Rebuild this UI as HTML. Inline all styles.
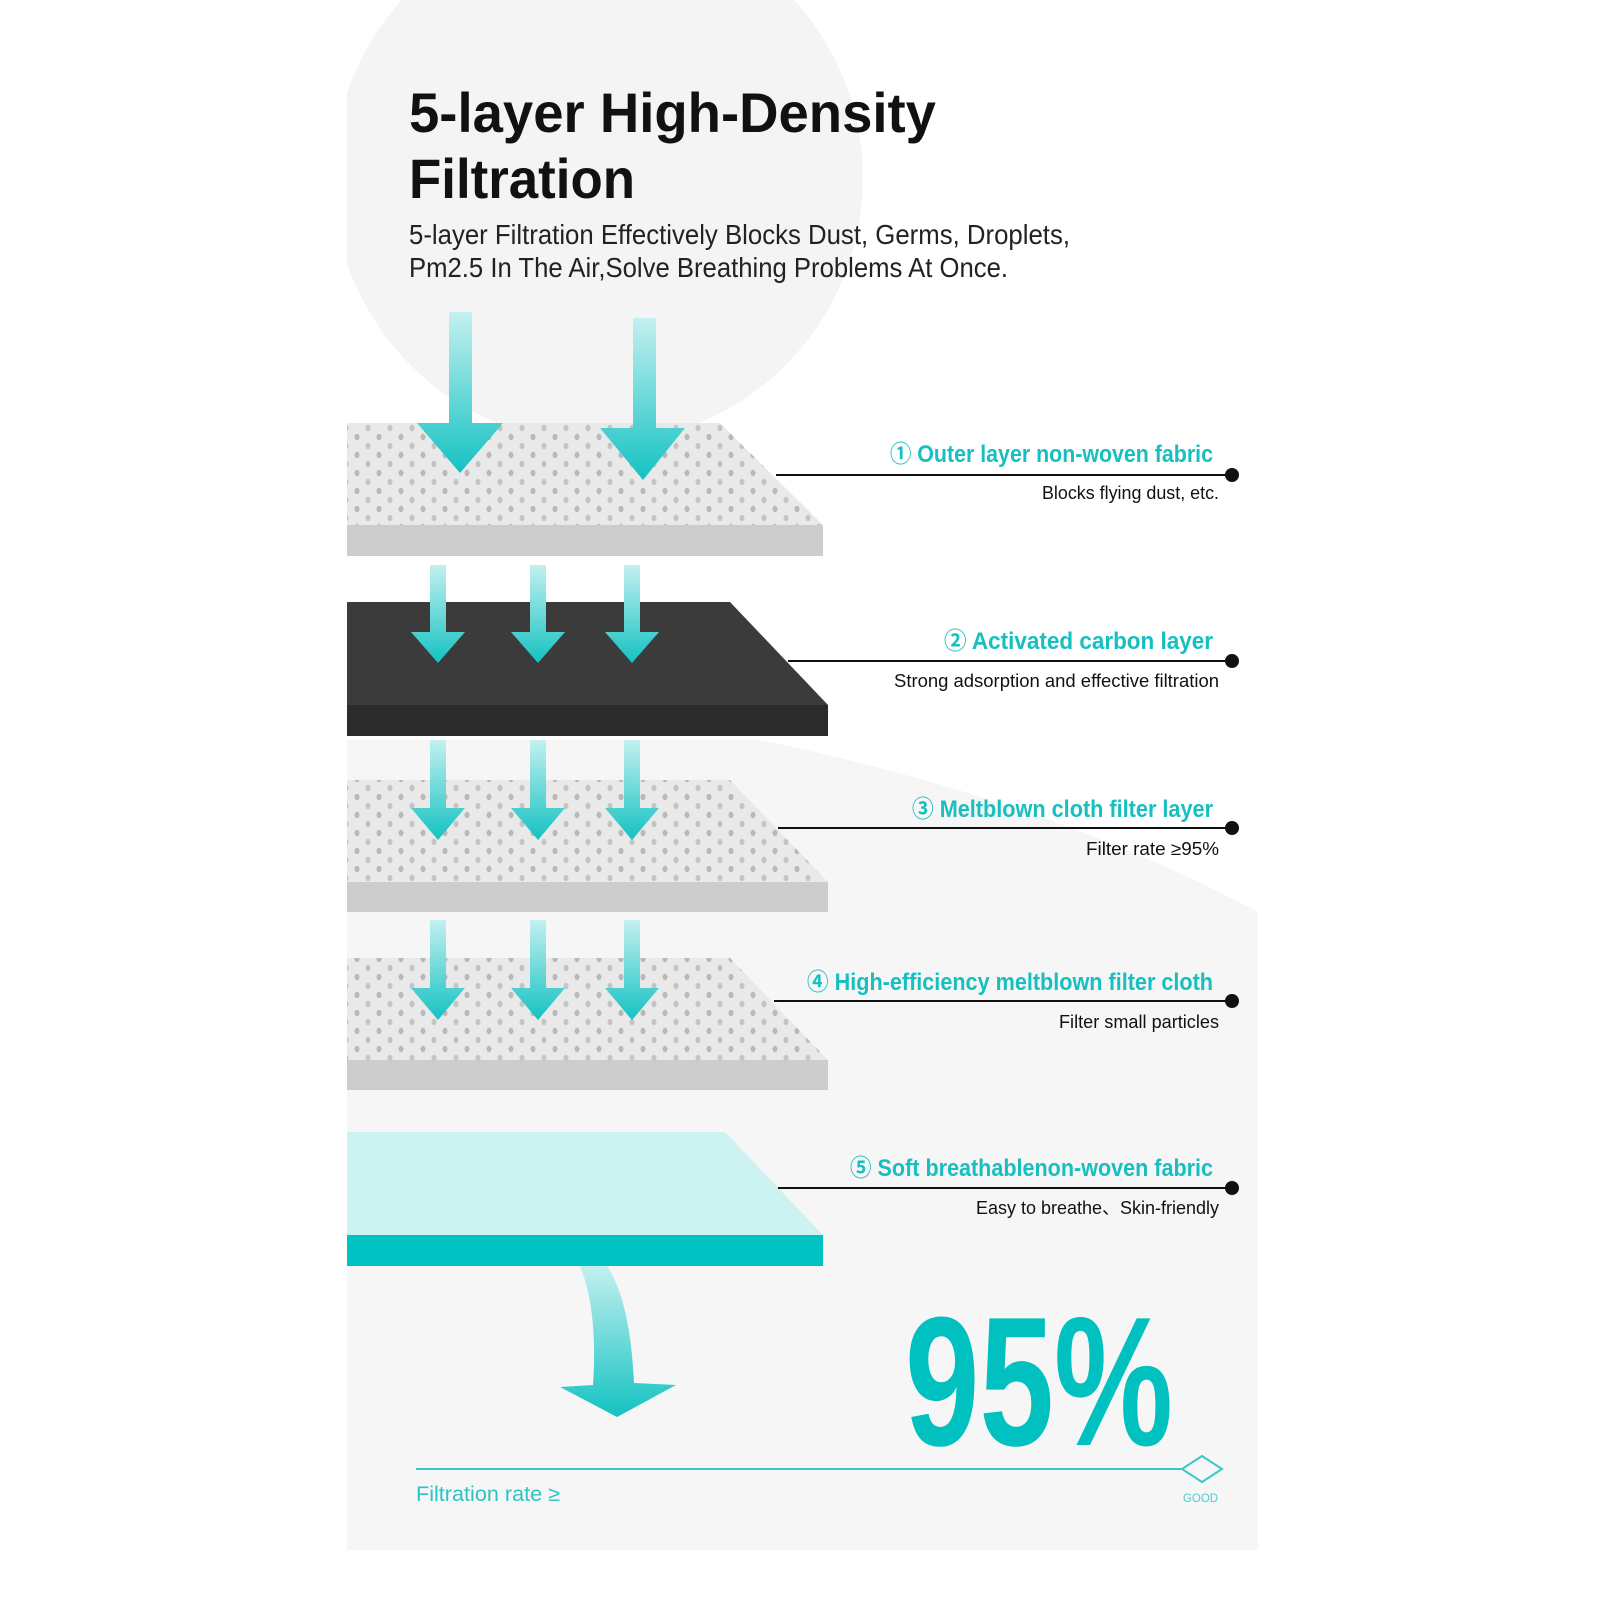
<!DOCTYPE html>
<html><head><meta charset="utf-8"><style>html,body{margin:0;padding:0;background:#fff;width:1600px;height:1600px;overflow:hidden}svg{display:block;position:absolute;left:0;top:0}</style></head>
<body>
<svg width="1600" height="1600" viewBox="0 0 1600 1600" xmlns="http://www.w3.org/2000/svg" font-family="Liberation Sans, sans-serif">
<defs>
<clipPath id="pc"><rect x="347" y="0" width="911" height="1550"/></clipPath>
<linearGradient id="ag" x1="0" y1="0" x2="0" y2="1"><stop offset="0" stop-color="#c4f0f0"/><stop offset="1" stop-color="#14c2c2"/></linearGradient>
<pattern id="dots" width="22" height="18" patternUnits="userSpaceOnUse">
<rect width="22" height="18" fill="#e9e9e9"/>
<ellipse cx="5" cy="5" rx="2.5" ry="3.2" fill="#b9b9b9"/>
<ellipse cx="16" cy="14" rx="2.5" ry="3.2" fill="#c4c4c4"/>
</pattern>
</defs>
<g clip-path="url(#pc)">
<circle cx="598" cy="178" r="265" fill="#f4f4f4"/>
<path d="M347,740 L760,740 Q1050,800 1258,912 L1258,1550 L347,1550 Z" fill="#f6f6f6"/>
</g>
<text x="409" y="132" font-size="56" font-weight="bold" fill="#111" textLength="527" lengthAdjust="spacingAndGlyphs">5-layer High-Density</text>
<text x="409" y="198" font-size="56" font-weight="bold" fill="#111" textLength="226" lengthAdjust="spacingAndGlyphs">Filtration</text>
<text x="409" y="244" font-size="28" fill="#222" textLength="661" lengthAdjust="spacingAndGlyphs">5-layer Filtration Effectively Blocks Dust, Germs, Droplets,</text>
<text x="409" y="277" font-size="28" fill="#222" textLength="599" lengthAdjust="spacingAndGlyphs">Pm2.5 In The Air,Solve Breathing Problems At Once.</text>

<polygon points="347,423 720,423 823,525 347,525" fill="url(#dots)"/>
<rect x="347" y="525" width="476" height="31" fill="#cdcdcd"/>
<polygon points="347,602 730,602 828,705 347,705" fill="#3b3b3b"/>
<rect x="347" y="705" width="481" height="31" fill="#2b2b2b"/>
<polygon points="347,780 730,780 828,882 347,882" fill="url(#dots)"/>
<rect x="347" y="882" width="481" height="30" fill="#cdcdcd"/>
<polygon points="347,958 730,958 828,1060 347,1060" fill="url(#dots)"/>
<rect x="347" y="1060" width="481" height="30" fill="#cdcdcd"/>
<polygon points="347,1132 725,1132 823,1235 347,1235" fill="#cdf2f2"/>
<rect x="347" y="1235" width="476" height="31" fill="#00c2c2"/>

<path d="M449,312 H472 V423 H503 L460,473 L417,423 H449 Z" fill="url(#ag)"/>
<path d="M633,318 H656 V428 H685 L643,480 L600,428 H633 Z" fill="url(#ag)"/>
<g fill="url(#ag)">
<path d="M430,565 H446 V632 H465 L438,663 L411,632 H430 Z"/>
<path d="M530,565 H546 V632 H565 L538,663 L511,632 H530 Z"/>
<path d="M624,565 H640 V632 H659 L632,663 L605,632 H624 Z"/>
<path d="M430,740 H446 V808 H465 L438,840 L411,808 H430 Z"/>
<path d="M530,740 H546 V808 H565 L538,840 L511,808 H530 Z"/>
<path d="M624,740 H640 V808 H659 L632,840 L605,808 H624 Z"/>
<path d="M430,920 H446 V988 H465 L438,1020 L411,988 H430 Z"/>
<path d="M530,920 H546 V988 H565 L538,1020 L511,988 H530 Z"/>
<path d="M624,920 H640 V988 H659 L632,1020 L605,988 H624 Z"/>
</g>
<path d="M580,1266 H607 Q630,1300 634,1383 L676,1385 L617,1417 L560,1387 L593,1385 Q598,1310 580,1266 Z" fill="url(#ag)"/>

<g stroke="#111" stroke-width="2">
<line x1="776" y1="475" x2="1232" y2="475"/>
<line x1="788" y1="661" x2="1232" y2="661"/>
<line x1="778" y1="828" x2="1232" y2="828"/>
<line x1="774" y1="1001" x2="1232" y2="1001"/>
<line x1="778" y1="1188" x2="1232" y2="1188"/>
</g>
<g fill="#111">
<circle cx="1232" cy="475" r="7"/><circle cx="1232" cy="661" r="7"/><circle cx="1232" cy="828" r="7"/><circle cx="1232" cy="1001" r="7"/><circle cx="1232" cy="1188" r="7"/>
</g>
<g font-size="24" font-weight="bold" fill="#17bfc0" font-family="Liberation Sans, 'Noto Sans CJK SC', sans-serif">
<text x="890" y="462" textLength="323" lengthAdjust="spacingAndGlyphs">① Outer layer non-woven fabric</text>
<text x="944" y="649" textLength="269" lengthAdjust="spacingAndGlyphs">② Activated carbon layer</text>
<text x="912" y="817" textLength="301" lengthAdjust="spacingAndGlyphs">③ Meltblown cloth filter layer</text>
<text x="807" y="990" textLength="406" lengthAdjust="spacingAndGlyphs">④ High-efficiency meltblown filter cloth</text>
<text x="850" y="1176" textLength="363" lengthAdjust="spacingAndGlyphs">⑤ Soft breathablenon-woven fabric</text>
</g>
<g font-size="18" fill="#111" font-family="Liberation Sans, 'Noto Sans CJK SC', sans-serif">
<text x="1042" y="499" textLength="177" lengthAdjust="spacingAndGlyphs">Blocks flying dust, etc.</text>
<text x="894" y="687" textLength="325" lengthAdjust="spacingAndGlyphs">Strong adsorption and effective filtration</text>
<text x="1086" y="855" textLength="133" lengthAdjust="spacingAndGlyphs">Filter rate ≥95%</text>
<text x="1059" y="1028" textLength="160" lengthAdjust="spacingAndGlyphs">Filter small particles</text>
<text x="976" y="1214" textLength="243" lengthAdjust="spacingAndGlyphs">Easy to breathe、Skin-friendly</text>
</g>

<text x="905" y="1445" font-size="184" font-weight="bold" fill="#00c0c0" textLength="268" lengthAdjust="spacingAndGlyphs">95%</text>
<line x1="416" y1="1469" x2="1183" y2="1469" stroke="#3cc8c8" stroke-width="2"/>
<polygon points="1182,1469 1202,1456 1222,1469 1202,1482" fill="none" stroke="#3cc8c8" stroke-width="2"/>
<text x="416" y="1501" font-size="21" fill="#2cc3c3" textLength="144" lengthAdjust="spacingAndGlyphs">Filtration rate ≥</text>
<text x="1183" y="1502" font-size="12" fill="#4ccccc" textLength="35" lengthAdjust="spacingAndGlyphs">GOOD</text>
</svg>
</body></html>
